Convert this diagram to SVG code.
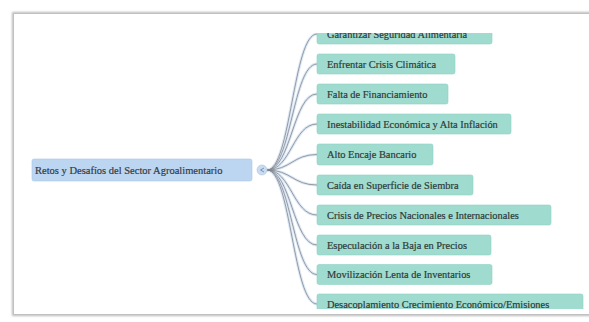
<svg xmlns="http://www.w3.org/2000/svg" width="589" height="322" viewBox="0 0 589 322">
<defs>
<style>
.node rect{fill:#9fdccf;stroke:#8fd0c2;stroke-width:0.6}
.node text{font-family:"Liberation Serif",serif;font-size:10.4px;fill:#2f3a38;stroke:#2f3a38;stroke-width:0.2}
.root rect{fill:#bcd6f2;stroke:#aac8ea;stroke-width:0.6}
.root text{font-family:"Liberation Serif",serif;font-size:10.5px;fill:#353b44;stroke:#353b44;stroke-width:0.2}
.halo{fill:none;stroke:#dde8f6;stroke-width:3;stroke-linecap:round}
.line{fill:none;stroke:#80858b;stroke-width:0.8}
</style>
<clipPath id="clip"><rect x="14" y="33" width="575" height="276"/></clipPath>
<filter id="sh" x="-5%" y="-5%" width="110%" height="110%"><feGaussianBlur stdDeviation="1"/></filter>
</defs>
<rect x="0" y="0" width="589" height="322" fill="#ffffff"/>
<rect x="12" y="12" width="590" height="304" fill="#bbbbbb" filter="url(#sh)"/>
<rect x="14" y="14" width="590" height="300" fill="#ffffff"/>
<g clip-path="url(#clip)">
<g id="connectors">
<path class="halo" d="M267 170 C291 170 293 34 317 34"/>
<path class="halo" d="M267 170 C291 170 293 64 317 64"/>
<path class="halo" d="M267 170 C291 170 293 94 317 94"/>
<path class="halo" d="M267 170 C291 170 293 124 317 124"/>
<path class="halo" d="M267 170 C291 170 293 154.5 317 154.5"/>
<path class="halo" d="M267 170 C291 170 293 185 317 185"/>
<path class="halo" d="M267 170 C291 170 293 215 317 215"/>
<path class="halo" d="M267 170 C291 170 293 245 317 245"/>
<path class="halo" d="M267 170 C291 170 293 274.5 317 274.5"/>
<path class="halo" d="M267 170 C291 170 293 304 317 304"/>
<path class="line" d="M267 170 C291 170 293 34 317 34"/>
<path class="line" d="M267 170 C291 170 293 64 317 64"/>
<path class="line" d="M267 170 C291 170 293 94 317 94"/>
<path class="line" d="M267 170 C291 170 293 124 317 124"/>
<path class="line" d="M267 170 C291 170 293 154.5 317 154.5"/>
<path class="line" d="M267 170 C291 170 293 185 317 185"/>
<path class="line" d="M267 170 C291 170 293 215 317 215"/>
<path class="line" d="M267 170 C291 170 293 245 317 245"/>
<path class="line" d="M267 170 C291 170 293 274.5 317 274.5"/>
<path class="line" d="M267 170 C291 170 293 304 317 304"/>
</g>
<g id="root" class="root">
<rect x="32" y="159" width="220" height="22" rx="2"/>
<text x="35" y="173.5">Retos y Desafíos del Sector Agroalimentario</text>
</g>
<g id="toggle">
<circle cx="262" cy="170" r="5" fill="#c9dcf2" stroke="#a9c3e3" stroke-width="0.6"/>
<path d="M264 168 L260.5 170 L264 172" fill="none" stroke="#6d7f95" stroke-width="0.8"/>
</g>
<g id="n1" class="node"><rect x="317" y="24" width="175" height="20" rx="2"/><text x="327" y="37.5">Garantizar Seguridad Alimentaria</text></g>
<g id="n2" class="node"><rect x="317" y="54" width="138" height="20" rx="2"/><text x="327" y="67.5">Enfrentar Crisis Climática</text></g>
<g id="n3" class="node"><rect x="317" y="84" width="131" height="20" rx="2"/><text x="327" y="97.5">Falta de Financiamiento</text></g>
<g id="n4" class="node"><rect x="317" y="114" width="194" height="20" rx="2"/><text x="327" y="127.5">Inestabilidad Económica y Alta Inflación</text></g>
<g id="n5" class="node"><rect x="317" y="144" width="116" height="21" rx="2"/><text x="327" y="158">Alto Encaje Bancario</text></g>
<g id="n6" class="node"><rect x="317" y="175" width="156" height="20" rx="2"/><text x="327" y="188.5">Caída en Superficie de Siembra</text></g>
<g id="n7" class="node"><rect x="317" y="205" width="234" height="20" rx="2"/><text x="327" y="218.5">Crisis de Precios Nacionales e Internacionales</text></g>
<g id="n8" class="node"><rect x="317" y="235" width="174" height="20" rx="2"/><text x="327" y="248.5">Especulación a la Baja en Precios</text></g>
<g id="n9" class="node"><rect x="317" y="264.5" width="175" height="20" rx="2"/><text x="327" y="278">Movilización Lenta de Inventarios</text></g>
<g id="n10" class="node"><rect x="317" y="294" width="266" height="20" rx="2"/><text x="327" y="307.5">Desacoplamiento Crecimiento Económico/Emisiones</text></g>
</g>
</svg>
